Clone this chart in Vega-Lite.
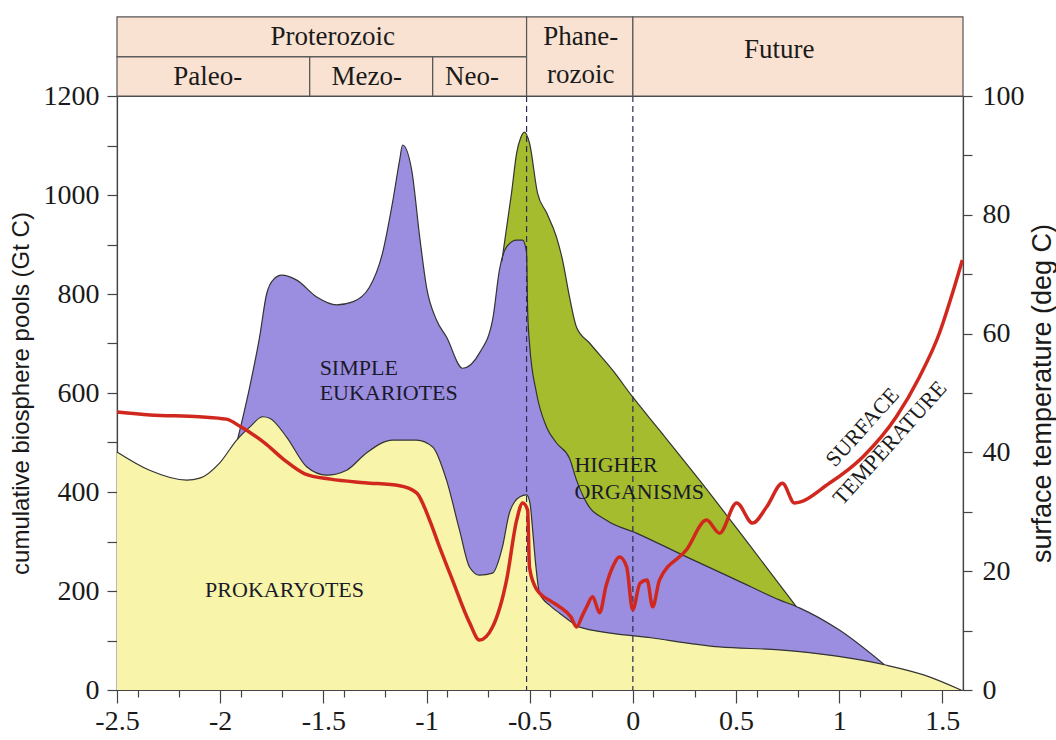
{
  "$schema": "https://vega.github.io/schema/vega-lite/v6.json",
  "width": 846,
  "height": 594,
  "autosize": {"type": "none"},
  "padding": {"left": 117, "top": 96, "right": 93, "bottom": 50},
  "background": "white",
  "config": {
    "font": "Liberation Serif",
    "view": {"stroke": "#444", "strokeWidth": 1.2}
  },
  "datasets": {
    "curves": [
      {"s": "prok", "x": -2.5, "y": 481}, {"s": "prok", "x": -2.342, "y": 444}, {"s": "prok", "x": -2.162, "y": 424}, {"s": "prok", "x": -2.099, "y": 428}, {"s": "prok", "x": -2.002, "y": 459}, {"s": "prok", "x": -1.92, "y": 505}, {"s": "prok", "x": -1.857, "y": 531}, {"s": "prok", "x": -1.794, "y": 552}, {"s": "prok", "x": -1.76, "y": 549}, {"s": "prok", "x": -1.678, "y": 511}, {"s": "prok", "x": -1.581, "y": 451}, {"s": "prok", "x": -1.484, "y": 434}, {"s": "prok", "x": -1.387, "y": 444}, {"s": "prok", "x": -1.291, "y": 479}, {"s": "prok", "x": -1.165, "y": 505}, {"s": "prok", "x": -1.048, "y": 505}, {"s": "prok", "x": -0.97, "y": 491}, {"s": "prok", "x": -0.903, "y": 424}, {"s": "prok", "x": -0.84, "y": 323}, {"s": "prok", "x": -0.791, "y": 248}, {"s": "prok", "x": -0.743, "y": 232}, {"s": "prok", "x": -0.68, "y": 236}, {"s": "prok", "x": -0.632, "y": 289}, {"s": "prok", "x": -0.598, "y": 358}, {"s": "prok", "x": -0.549, "y": 390}, {"s": "prok", "x": -0.515, "y": 394}, {"s": "prok", "x": -0.498, "y": 376}, {"s": "prok", "x": -0.485, "y": 320}, {"s": "prok", "x": -0.47, "y": 250}, {"s": "prok", "x": -0.452, "y": 195}, {"s": "prok", "x": -0.4, "y": 170}, {"s": "prok", "x": -0.355, "y": 155}, {"s": "prok", "x": -0.3, "y": 138}, {"s": "prok", "x": -0.258, "y": 127}, {"s": "prok", "x": 0.096, "y": 105}, {"s": "prok", "x": 0.42, "y": 87}, {"s": "prok", "x": 0.71, "y": 81}, {"s": "prok", "x": 1.219, "y": 51}, {"s": "prok", "x": 1.413, "y": 30}, {"s": "prok", "x": 1.59, "y": 0},
      {"s": "euk", "x": -1.915, "y": 507}, {"s": "euk", "x": -1.857, "y": 612}, {"s": "euk", "x": -1.809, "y": 713}, {"s": "euk", "x": -1.775, "y": 800}, {"s": "euk", "x": -1.74, "y": 830}, {"s": "euk", "x": -1.702, "y": 838}, {"s": "euk", "x": -1.629, "y": 828}, {"s": "euk", "x": -1.532, "y": 794}, {"s": "euk", "x": -1.436, "y": 778}, {"s": "euk", "x": -1.358, "y": 784}, {"s": "euk", "x": -1.276, "y": 814}, {"s": "euk", "x": -1.213, "y": 883}, {"s": "euk", "x": -1.165, "y": 984}, {"s": "euk", "x": -1.13, "y": 1071}, {"s": "euk", "x": -1.116, "y": 1101}, {"s": "euk", "x": -1.072, "y": 1051}, {"s": "euk", "x": -1.033, "y": 915}, {"s": "euk", "x": -1.0, "y": 814}, {"s": "euk", "x": -0.951, "y": 747}, {"s": "euk", "x": -0.903, "y": 713}, {"s": "euk", "x": -0.825, "y": 650}, {"s": "euk", "x": -0.743, "y": 681}, {"s": "euk", "x": -0.68, "y": 747}, {"s": "euk", "x": -0.646, "y": 850}, {"s": "euk", "x": -0.612, "y": 895}, {"s": "euk", "x": -0.563, "y": 909}, {"s": "euk", "x": -0.534, "y": 909}, {"s": "euk", "x": -0.515, "y": 883}, {"s": "euk", "x": -0.51, "y": 768}, {"s": "euk", "x": -0.501, "y": 701}, {"s": "euk", "x": -0.467, "y": 600}, {"s": "euk", "x": -0.418, "y": 531}, {"s": "euk", "x": -0.37, "y": 499}, {"s": "euk", "x": -0.307, "y": 468}, {"s": "euk", "x": -0.273, "y": 424}, {"s": "euk", "x": -0.224, "y": 378}, {"s": "euk", "x": -0.128, "y": 343}, {"s": "euk", "x": 0.017, "y": 317}, {"s": "euk", "x": 0.26, "y": 269}, {"s": "euk", "x": 0.503, "y": 222}, {"s": "euk", "x": 0.71, "y": 182}, {"s": "euk", "x": 0.807, "y": 166}, {"s": "euk", "x": 1.001, "y": 121}, {"s": "euk", "x": 1.219, "y": 51},
      {"s": "high", "x": -0.635, "y": 866}, {"s": "high", "x": -0.588, "y": 1004}, {"s": "high", "x": -0.563, "y": 1085}, {"s": "high", "x": -0.544, "y": 1115}, {"s": "high", "x": -0.525, "y": 1127}, {"s": "high", "x": -0.501, "y": 1105}, {"s": "high", "x": -0.462, "y": 1004}, {"s": "high", "x": -0.418, "y": 964}, {"s": "high", "x": -0.37, "y": 915}, {"s": "high", "x": -0.341, "y": 869}, {"s": "high", "x": -0.307, "y": 794}, {"s": "high", "x": -0.273, "y": 733}, {"s": "high", "x": -0.21, "y": 701}, {"s": "high", "x": -0.098, "y": 646}, {"s": "high", "x": -0.001, "y": 592}, {"s": "high", "x": 0.129, "y": 525}, {"s": "high", "x": 0.323, "y": 424}, {"s": "high", "x": 0.565, "y": 293}, {"s": "high", "x": 0.793, "y": 168}
    ],
    "temp": [
      {"x": -2.5, "t": 46.8}, {"x": -2.34, "t": 46.3}, {"x": -2.1, "t": 46.0}, {"x": -1.97, "t": 45.6}, {"x": -1.9, "t": 44.3}, {"x": -1.785, "t": 41.6}, {"x": -1.688, "t": 38.7}, {"x": -1.59, "t": 36.4}, {"x": -1.465, "t": 35.5}, {"x": -1.3, "t": 34.9}, {"x": -1.13, "t": 34.4}, {"x": -1.048, "t": 33.2}, {"x": -0.985, "t": 28.6}, {"x": -0.937, "t": 24.1}, {"x": -0.874, "t": 18.5}, {"x": -0.791, "t": 11.3}, {"x": -0.743, "t": 8.4}, {"x": -0.68, "t": 10.6}, {"x": -0.612, "t": 18.5}, {"x": -0.563, "t": 28.6}, {"x": -0.534, "t": 31.5}, {"x": -0.51, "t": 30.3}, {"x": -0.501, "t": 20.7}, {"x": -0.475, "t": 17.5}, {"x": -0.452, "t": 16.3}, {"x": -0.4, "t": 15.0}, {"x": -0.355, "t": 14.0}, {"x": -0.3, "t": 12.3}, {"x": -0.273, "t": 10.6}, {"x": -0.245, "t": 12.5}, {"x": -0.224, "t": 14.0}, {"x": -0.195, "t": 15.7}, {"x": -0.161, "t": 13.0}, {"x": -0.13, "t": 17.5}, {"x": -0.098, "t": 20.7}, {"x": -0.064, "t": 22.4}, {"x": -0.03, "t": 20.7}, {"x": -0.001, "t": 13.5}, {"x": 0.035, "t": 18.0}, {"x": 0.069, "t": 18.5}, {"x": 0.096, "t": 14.0}, {"x": 0.129, "t": 18.5}, {"x": 0.26, "t": 23.6}, {"x": 0.357, "t": 28.6}, {"x": 0.42, "t": 26.4}, {"x": 0.503, "t": 31.5}, {"x": 0.58, "t": 28.1}, {"x": 0.648, "t": 30.8}, {"x": 0.725, "t": 34.8}, {"x": 0.783, "t": 31.5}, {"x": 0.952, "t": 34.8}, {"x": 1.113, "t": 39.2}, {"x": 1.277, "t": 46.0}, {"x": 1.389, "t": 52.7}, {"x": 1.486, "t": 60.1}, {"x": 1.549, "t": 66.8}, {"x": 1.597, "t": 72.4}
    ],
    "boxes": [
      {"x": -2.5, "xe": -0.515, "y": 1279, "ye": 1360},
      {"x": -2.5, "xe": -1.566, "y": 1200, "ye": 1279},
      {"x": -1.566, "xe": -0.97, "y": 1200, "ye": 1279},
      {"x": -0.97, "xe": -0.515, "y": 1200, "ye": 1279},
      {"x": -0.515, "xe": 0, "y": 1200, "ye": 1360},
      {"x": 0, "xe": 1.6, "y": 1200, "ye": 1360}
    ],
    "boxtext": [
      {"x": -1.455, "y": 1320, "text": "Proterozoic"},
      {"x": -2.06, "y": 1239, "text": "Paleo-"},
      {"x": -1.29, "y": 1239, "text": "Mezo-"},
      {"x": -0.78, "y": 1239, "text": "Neo-"},
      {"x": -0.253, "y": 1320, "text": "Phane-"},
      {"x": -0.253, "y": 1243, "text": "rozoic"},
      {"x": 0.71, "y": 1293, "text": "Future"}
    ],
    "dividers": [{"x": -0.515}, {"x": 0}],
    "labelsC": [
      {"x": -1.688, "y": 202, "text": "PROKARYOTES"}
    ],
    "labelsL": [
      {"x": -1.518, "y": 650, "text": "SIMPLE"},
      {"x": -1.518, "y": 600, "text": "EUKARIOTES"},
      {"x": -0.283, "y": 455, "text": "HIGHER"},
      {"x": -0.283, "y": 400, "text": "ORGANISMS"}
    ],
    "rotlabels": [
      {"x": 1.113, "y": 531, "text": "SURFACE"},
      {"x": 1.245, "y": 499, "text": "TEMPERATURE"}
    ]
  },
  "layer": [
    {
      "layer": [
        {
          "data": {"name": "curves"},
          "transform": [{"filter": "datum.s == 'high'"}],
          "mark": {"type": "area", "color": "#a4bc2d", "opacity": 1, "interpolate": "monotone"},
          "encoding": {
            "x": {
              "field": "x", "type": "quantitative",
              "scale": {"domain": [-2.5, 1.6], "nice": false, "zero": false},
              "axis": {
                "orient": "bottom",
                "title": null, "grid": false, "labels": false,
                "values": [-2.4, -2.3, -2.2, -2.1, -1.9, -1.8, -1.7, -1.6, -1.4, -1.3, -1.2, -1.1, -0.9, -0.8, -0.7, -0.6, -0.4, -0.3, -0.2, -0.1, 0.1, 0.2, 0.3, 0.4, 0.6, 0.7, 0.8, 0.9, 1.1, 1.2, 1.3, 1.4],
                "domainColor": "#444", "domainWidth": 1.2,
                "tickColor": "#444", "tickWidth": 1.2, "tickSize": 7
              }
            },
            "y": {
              "field": "y", "type": "quantitative",
              "scale": {"domain": [0, 1200], "nice": false},
              "axis": {
                "title": "cumulative biosphere pools (Gt C)",
                "titleFont": "Liberation Sans", "titleFontSize": 24, "titleFontWeight": "normal", "titleColor": "#1a1a1a", "titlePadding": 10,
                "grid": false,
                "values": [0, 100, 200, 300, 400, 500, 600, 700, 800, 900, 1000, 1100, 1200],
                "labelExpr": "datum.value % 200 == 0 ? '' + datum.value : ''",
                "labelFont": "Liberation Serif", "labelFontSize": 28, "labelColor": "#1a1a1a",
                "domainColor": "#444", "domainWidth": 1.2, "tickColor": "#444", "tickWidth": 1.2,
                "tickSize": 10, "labelPadding": 8, "labelFlush": false, "labelOverlap": false
              }
            }
          }
        },
        {
          "data": {"name": "curves"},
          "transform": [{"filter": "datum.s == 'euk'"}],
          "mark": {"type": "area", "color": "#9b8ee0", "opacity": 1, "interpolate": "monotone"},
          "encoding": {"x": {"field": "x", "type": "quantitative"}, "y": {"field": "y", "type": "quantitative"}}
        },
        {
          "data": {"name": "curves"},
          "transform": [{"filter": "datum.s == 'prok'"}],
          "mark": {"type": "area", "color": "#f8f5aa", "opacity": 1, "interpolate": "monotone"},
          "encoding": {"x": {"field": "x", "type": "quantitative"}, "y": {"field": "y", "type": "quantitative"}}
        },
        {
          "data": {"name": "curves"},
          "mark": {"type": "line", "color": "#333333", "strokeWidth": 1.2, "interpolate": "monotone"},
          "encoding": {"x": {"field": "x", "type": "quantitative"}, "y": {"field": "y", "type": "quantitative"}, "detail": {"field": "s"}}
        },
        {
          "data": {"name": "dividers"},
          "mark": {"type": "rule", "color": "#2b2b55", "strokeWidth": 1.2, "strokeDash": [6, 4]},
          "encoding": {"x": {"field": "x", "type": "quantitative"}}
        },
        {
          "data": {"name": "boxes"},
          "mark": {"type": "rect", "fill": "#fae2d2", "stroke": "#555555", "strokeWidth": 1.2},
          "encoding": {
            "x": {"field": "x", "type": "quantitative"}, "x2": {"field": "xe"},
            "y": {"field": "y", "type": "quantitative"}, "y2": {"field": "ye"}
          }
        },
        {
          "data": {"name": "boxtext"},
          "mark": {"type": "text", "font": "Liberation Serif", "fontSize": 27, "color": "#1a1a1a", "align": "center", "baseline": "middle"},
          "encoding": {"x": {"field": "x", "type": "quantitative"}, "y": {"field": "y", "type": "quantitative"}, "text": {"field": "text"}}
        },
        {
          "data": {"name": "labelsC"},
          "mark": {"type": "text", "font": "Liberation Serif", "fontSize": 22, "color": "#1a1a2a", "align": "center", "baseline": "middle"},
          "encoding": {"x": {"field": "x", "type": "quantitative"}, "y": {"field": "y", "type": "quantitative"}, "text": {"field": "text"}}
        },
        {
          "data": {"name": "labelsL"},
          "mark": {"type": "text", "font": "Liberation Serif", "fontSize": 22, "color": "#1a1a2a", "align": "left", "baseline": "middle"},
          "encoding": {"x": {"field": "x", "type": "quantitative"}, "y": {"field": "y", "type": "quantitative"}, "text": {"field": "text"}}
        },
        {
          "data": {"name": "rotlabels"},
          "mark": {"type": "text", "font": "Liberation Serif", "fontSize": 22, "color": "#1a1a1a", "align": "center", "baseline": "middle", "angle": 312},
          "encoding": {"x": {"field": "x", "type": "quantitative"}, "y": {"field": "y", "type": "quantitative"}, "text": {"field": "text"}}
        }
      ]
    },
    {
      "data": {"name": "temp"},
      "mark": {"type": "line", "color": "#d0281e", "strokeWidth": 3.5, "interpolate": "monotone"},
      "encoding": {
        "x": {
          "field": "x", "type": "quantitative",
          "scale": {"domain": [-2.5, 1.6], "nice": false, "zero": false},
          "axis": {
            "orient": "bottom",
            "title": null, "grid": false,
            "values": [-2.5, -2, -1.5, -1, -0.5, 0, 0.5, 1, 1.5],
            "domainColor": "#444", "domainWidth": 1.2,
            "tickColor": "#444", "tickWidth": 1.2, "tickSize": 13,
            "labelExpr": "'' + datum.value",
            "labelFont": "Liberation Serif", "labelFontSize": 28, "labelColor": "#1a1a1a",
            "labelPadding": 4, "labelFlush": false, "labelOverlap": false
          }
        },
        "y": {
          "field": "t", "type": "quantitative",
          "scale": {"domain": [0, 100], "nice": false},
          "axis": {
            "orient": "right",
            "title": "surface temperature (deg C)",
            "titleFont": "Liberation Sans", "titleFontSize": 27, "titleFontWeight": "normal", "titleColor": "#1a1a1a",
            "titleAngle": 270, "titleBaseline": "top", "titlePadding": 5,
            "grid": false,
            "values": [0, 10, 20, 30, 40, 50, 60, 70, 80, 90, 100],
            "labelExpr": "datum.value % 20 == 0 ? '' + datum.value : ''",
            "labelFont": "Liberation Serif", "labelFontSize": 28, "labelColor": "#1a1a1a",
            "domainColor": "#444", "domainWidth": 1.2, "tickColor": "#444", "tickWidth": 1.2,
            "tickSize": 9, "labelPadding": 10, "labelFlush": false, "labelOverlap": false
          }
        }
      }
    }
  ],
  "resolve": {"scale": {"x": "independent", "y": "independent"}, "axis": {"x": "independent", "y": "independent"}}
}
